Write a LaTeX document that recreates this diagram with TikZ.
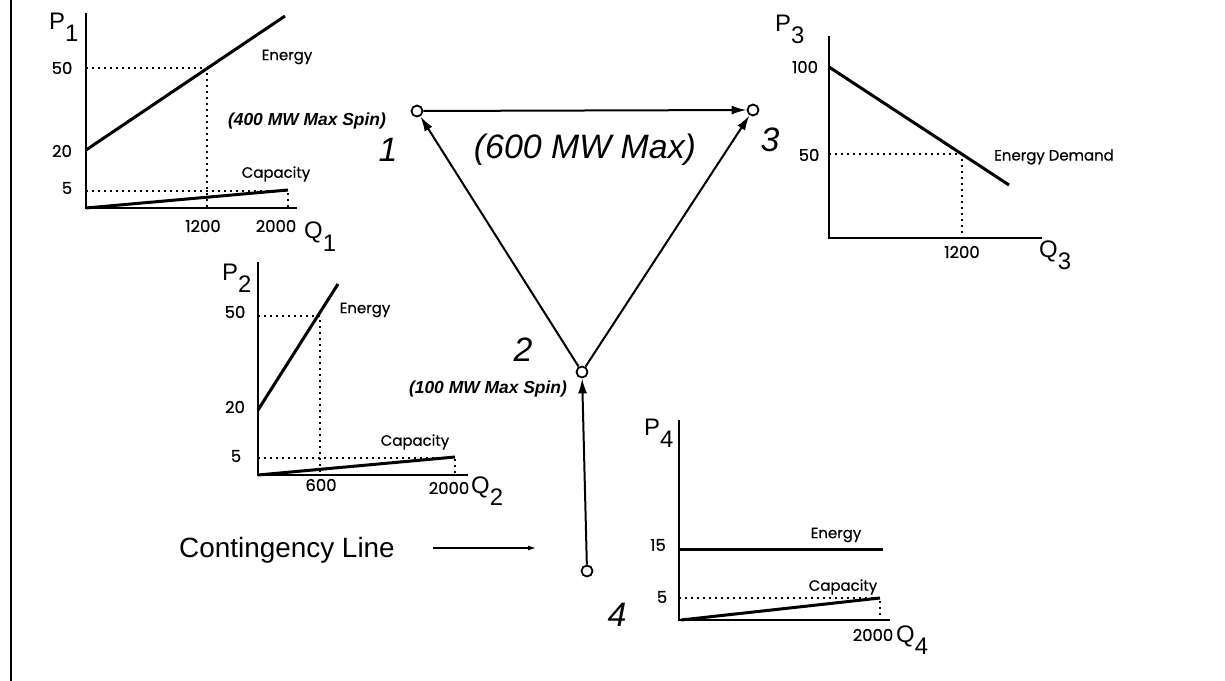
\documentclass[tikz,border=0pt]{standalone}
\usepackage{fontspec}
\setmainfont{Liberation Sans}
\newfontfamily\gothicfont[FakeBold=0.6]{Poppins}
\usetikzlibrary{arrows.meta, positioning}
\tikzset{
  axisline/.style={line width=1.8bp},
  curve/.style={line width=3bp},
  guide/.style={line width=1.6bp, dash pattern=on 1.6bp off 4.4bp},
  bus/.style={circle, draw, line width=1.8bp, fill=white, inner sep=0pt, minimum size=11bp},
  flow/.style={-{Latex[length=15bp, width=9bp]}, line width=2bp},
  ticklbl/.style={font=\gothicfont\fontsize{16.5}{16.5}\selectfont, inner sep=0pt},
  curvelbl/.style={font=\gothicfont\fontsize{15}{15}\selectfont, inner sep=0pt},
  axlbl/.style={font=\fontsize{24}{24}\selectfont, inner sep=0pt, anchor=base west},
  buslbl/.style={font=\itshape\fontsize{34}{34}\selectfont, inner sep=0pt},
  note/.style={font=\bfseries\itshape\fontsize{17.5}{17.5}\selectfont, inner sep=0pt},
}
\newcommand{\axname}[2]{#1\raisebox{-12bp}{#2}}

\begin{document}
\begin{tikzpicture}[x=1bp, y=-1bp]
  \useasboundingbox (0,0) rectangle (1225,681);
  \draw[line width=2bp] (11,0) -- (11,681);

  % generator 1
  \draw[axisline] (86,13) -- (86,208) -- (297,208);
  \draw[guide] (86,68) -- (207,68) -- (207,208);
  \draw[guide] (86,191) -- (288,191) -- (288,208);
  \draw[curve] (86,150) -- (285,16);
  \draw[curve] (86,208) -- (288,190);
  \node[axlbl] (p1) at (49,30) {\axname{P}{1}};
  \node[axlbl] (q1) at (304,239) {\axname{Q}{1}};
  \node[ticklbl] (p1a) at (62,68) {50};
  \node[ticklbl] (p1b) at (62,151) {20};
  \node[ticklbl] (p1c) at (67,188) {5};
  \node[ticklbl] (q1a) at (203,226) {1200};
  \node[ticklbl] (q1b) at (276,226) {2000};
  \node[curvelbl] (e1) at (287,57) {Energy};
  \node[curvelbl] (c1) at (276,174) {Capacity};
  \node[note] (spin1) at (307,121) {(400 MW Max Spin)};

  % generator 2
  \draw[axisline] (258,262) -- (258,475) -- (468,475);
  \draw[guide] (258,316) -- (320,316) -- (320,475);
  \draw[guide] (258,458) -- (455,458) -- (455,475);
  \draw[curve] (258,410) -- (338,284);
  \draw[curve] (258,475) -- (455,457);
  \node[axlbl] (p2) at (222,280) {\axname{P}{2}};
  \node[axlbl] (q2) at (471,493) {\axname{Q}{2}};
  \node[ticklbl] (p2a) at (235,312) {50};
  \node[ticklbl] (p2b) at (235,407) {20};
  \node[ticklbl] (p2c) at (236,456) {5};
  \node[ticklbl] (q2a) at (321,485) {600};
  \node[ticklbl] (q2b) at (449,488) {2000};
  \node[curvelbl] (e2) at (365,310) {Energy};
  \node[curvelbl] (c2) at (415,442) {Capacity};

  % load 3
  \draw[axisline] (829,36) -- (829,238) -- (1042,238);
  \draw[guide] (829,154) -- (962,154) -- (962,238);
  \draw[curve] (829,67) -- (1009,185);
  \node[axlbl] (p3) at (775,32) {\axname{P}{3}};
  \node[axlbl] (q3) at (1039,257) {\axname{Q}{3}};
  \node[ticklbl] (p3a) at (805,67) {100};
  \node[ticklbl] (p3b) at (809,155) {50};
  \node[ticklbl] (q3a) at (962,252) {1200};
  \node[curvelbl] (d3) at (1054,157) {Energy Demand};

  % generator 4
  \draw[axisline] (679,420) -- (679,620) -- (890,620);
  \draw[guide] (679,598) -- (880,598) -- (880,620);
  \draw[curve] (679,549) -- (883,549);
  \draw[curve] (681,620) -- (880,598);
  \node[axlbl] (p4) at (644,435) {\axname{P}{4}};
  \node[axlbl] (q4) at (896,642) {\axname{Q}{4}};
  \node[ticklbl] (p4a) at (658,545) {15};
  \node[ticklbl] (p4b) at (662,597) {5};
  \node[ticklbl] (q4a) at (873,635) {2000};
  \node[curvelbl] (e4) at (836,535) {Energy};
  \node[curvelbl] (c4) at (843,587) {Capacity};

  % network
  \node[bus] (n1) at (417,111) {};
  \node[bus] (n3) at (753,110) {};
  \node[bus] (n2) at (582,372) {};
  \node[bus] (n4) at (587,571) {};
  \draw[flow] (n1) -- (n3);
  \draw[flow] (n2) -- (n1);
  \draw[flow] (n2) -- (n3);
  \draw[flow] (n4) -- (n2);
  \node[buslbl] (l1) at (388,150) {1};
  \node[buslbl] (l3) at (770,140) {3};
  \node[buslbl] (l2) at (523,350) {2};
  \node[buslbl] (l4) at (617,615) {4};
  \node[buslbl] (cap13) at (585,150) {(600 MW Max)};
  \node[note] (spin2) at (488,389) {(100 MW Max Spin)};

  \node[font=\fontsize{28}{28}\selectfont, inner sep=0pt] (cont) at (287,550) {Contingency Line};
  \coordinate (contstart) at (433,548);
  \coordinate (conttip) at (537,548);
  \draw[-{Latex[length=9bp, width=5bp]}, line width=2bp] (contstart) -- (conttip);
\end{tikzpicture}
\end{document}
